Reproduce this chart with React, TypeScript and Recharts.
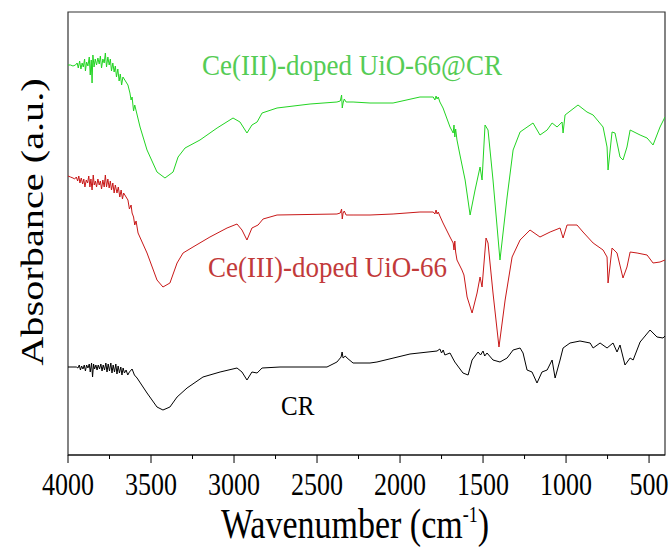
import React from "react";
import {
  Customized,
  Line,
  LineChart,
  ReferenceArea,
  XAxis,
  YAxis,
} from "recharts";

// wavenumber (cm-1) and absorbance (a.u.)
const greenWn = [
  4000, 3985, 3970, 3955, 3945, 3938, 3930, 3922, 3915, 3908, 3900, 3895, 3888,
  3880, 3872, 3866, 3860, 3855, 3850, 3843, 3836, 3828, 3820, 3812, 3805, 3798,
  3790, 3782, 3775, 3768, 3760, 3752, 3745, 3738, 3730, 3722, 3715, 3708, 3700,
  3692, 3685, 3677, 3669, 3639, 3627, 3620, 3614, 3605, 3598, 3566, 3524, 3464,
  3416, 3367, 3337, 3295, 3205, 3102, 3006, 2964, 2922, 2892, 2861, 2831, 2741,
  2542, 2380, 2360, 2352, 2348, 2343, 2336, 2325, 2283, 2181, 2042, 1880, 1800,
  1790, 1783, 1777, 1770, 1760, 1741, 1699, 1680, 1675, 1670, 1665, 1657, 1639,
  1608, 1578, 1548, 1518, 1506, 1488, 1470, 1440, 1398, 1355, 1319, 1277, 1199,
  1157, 1114, 1084, 1054, 1024, 1018, 1006, 928, 874, 837, 777, 753, 747, 723,
  705, 675, 657, 633, 614, 554, 512, 476, 434, 404,
];
const greenAbs = [
  390, 390, 389, 390, 392, 387, 394, 386, 392, 388, 396, 384, 393, 389, 398,
  380, 395, 372, 400, 388, 396, 390, 397, 391, 399, 387, 396, 392, 402, 388,
  398, 390, 396, 384, 392, 383, 389, 378, 386, 374, 381, 370, 378, 370, 362,
  355, 358, 344, 350, 328, 305, 283, 277, 283, 298, 307, 315, 327, 337, 333,
  322, 330, 333, 342, 347, 351, 353, 354, 360, 347, 352, 356, 353, 353, 352,
  352, 358, 358, 355, 359, 356, 358, 353, 347, 328, 322, 330, 318, 326, 315,
  300, 275, 240, 265, 288, 275, 330, 325, 275, 195, 258, 305, 323, 332, 320,
  325, 332, 328, 333, 322, 340, 350, 343, 340, 328, 308, 285, 323, 322, 298,
  295, 308, 325, 320, 317, 310, 328, 338,
];

const redWn = [
  4000, 3985, 3970, 3960, 3950, 3942, 3935, 3928, 3920, 3912, 3905, 3898, 3890,
  3882, 3875, 3868, 3862, 3855, 3848, 3842, 3835, 3828, 3820, 3812, 3805, 3798,
  3790, 3782, 3775, 3768, 3760, 3752, 3745, 3738, 3730, 3722, 3715, 3705, 3697,
  3688, 3680, 3672, 3665, 3639, 3630, 3620, 3614, 3605, 3598, 3590, 3578, 3524,
  3464, 3428, 3386, 3343, 3307, 3247, 3145, 3042, 2982, 2952, 2922, 2892, 2855,
  2825, 2741, 2380, 2360, 2352, 2348, 2343, 2336, 2325, 2283, 2181, 2042, 1880,
  1800, 1790, 1783, 1777, 1770, 1760, 1741, 1699, 1680, 1675, 1670, 1665, 1657,
  1627, 1615, 1608, 1596, 1566, 1536, 1518, 1506, 1482, 1470, 1440, 1404, 1367,
  1325, 1277, 1217, 1157, 1096, 1036, 1018, 994, 934, 898, 837, 777, 753, 747,
  723, 693, 657, 633, 614, 572, 512, 476, 434, 404,
];
const redAbs = [
  279, 278, 277, 276, 278, 274, 279, 272, 277, 271, 276, 268, 275, 272, 279,
  268, 276, 265, 280, 270, 274, 268, 276, 270, 274, 266, 275, 268, 280, 268,
  276, 267, 274, 265, 272, 262, 270, 262, 268, 258, 265, 256, 262, 255, 246,
  250, 242, 238, 230, 234, 222, 202, 175, 168, 172, 192, 202, 208, 218, 227,
  231, 225, 215, 227, 230, 236, 240, 241, 242, 246, 236, 242, 244, 240, 240,
  240, 241, 243, 243, 241, 245, 241, 243, 239, 232, 218, 212, 205, 214, 203,
  195, 185, 180, 172, 158, 142, 162, 178, 168, 217, 212, 162, 108, 155, 198,
  215, 225, 218, 223, 227, 217, 230, 230, 223, 212, 205, 198, 172, 207, 202,
  177, 188, 203, 202, 200, 192, 193, 195,
];

const blackWn = [
  4000, 3970, 3950, 3940, 3932, 3925, 3918, 3910, 3902, 3895, 3888, 3880, 3872,
  3866, 3858, 3852, 3846, 3840, 3832, 3825, 3818, 3810, 3802, 3795, 3788, 3780,
  3772, 3765, 3758, 3750, 3742, 3735, 3728, 3720, 3712, 3705, 3698, 3690, 3682,
  3675, 3668, 3660, 3650, 3640, 3630, 3614, 3600, 3584, 3524, 3464, 3428, 3386,
  3343, 3283, 3187, 3084, 2982, 2952, 2922, 2892, 2861, 2831, 2723, 2440, 2380,
  2355, 2349, 2343, 2330, 2319, 2283, 2181, 2139, 1940, 1777, 1760, 1750, 1740,
  1730, 1699, 1680, 1670, 1621, 1590, 1566, 1530, 1515, 1500, 1490, 1476, 1440,
  1398, 1355, 1319, 1277, 1259, 1235, 1205, 1175, 1145, 1114, 1084, 1066, 1036,
  1018, 976, 916, 855, 837, 795, 753, 717, 693, 675, 645, 614, 596, 554, 494,
  452, 416, 404,
];
const blackAbs = [
  88, 88, 88, 87, 90, 85, 89, 86, 90, 84, 90, 87, 91, 83, 92, 78, 91, 86, 90,
  85, 90, 86, 91, 84, 90, 85, 92, 83, 91, 84, 92, 82, 90, 83, 91, 81, 89, 82,
  88, 80, 87, 82, 85, 80, 83, 86, 80, 77, 62, 48, 45, 48, 58, 67, 78, 83, 87,
  83, 75, 83, 82, 87, 88, 88, 93, 98, 103, 97, 99, 97, 92, 92, 93, 101, 104,
  106, 102, 105, 100, 102, 96, 93, 82, 80, 95, 103, 100, 104, 99, 102, 95, 93,
  97, 105, 107, 102, 85, 83, 72, 83, 85, 95, 77, 95, 107, 112, 114, 112, 107,
  112, 107, 112, 103, 110, 90, 97, 95, 113, 125, 118, 117, 119,
];

const xTicks = [
  4000, 3750, 3500, 3250, 3000, 2750, 2500, 2250, 2000, 1750, 1500, 1250, 1000,
  750, 500,
];

const toRows = (wn: number[], abs: number[]) =>
  wn.map((w, i) => ({ wn: w, abs: abs[i] }));

const greenData = toRows(greenWn, greenAbs);
const redData = toRows(redWn, redAbs);
const blackData = toRows(blackWn, blackAbs);

const FONT = "Liberation Serif";

const WnTick = (props: any) => {
  const { x, y, payload } = props;
  const major = payload.value % 500 === 0;
  return (
    <g>
      <line x1={x} y1={y} x2={x} y2={y + (major ? 8 : 4)} stroke="#000" />
      {major && (
        <text
          transform={`translate(${x} ${y + 40}) scale(1 1.25)`}
          textAnchor="middle"
          fontFamily={FONT}
          fontSize={26}
          fill="#000"
        >
          {payload.value}
        </text>
      )}
    </g>
  );
};

const Texts = () => (
  <g fontFamily={FONT}>
    <text
      transform="translate(202 75) scale(1 1.1)"
      fontSize={27}
      fill="#55cc55"
      fontFamily={FONT}
    >
      Ce(III)-doped UiO-66@CR
    </text>
    <text
      transform="translate(208 277) scale(1 1.1)"
      fontSize={27}
      fill="#c23a3a"
      fontFamily={FONT}
    >
      Ce(III)-doped UiO-66
    </text>
    <text
      transform="translate(281 415) scale(1 1.1)"
      fontSize={25}
      fill="#000"
      fontFamily={FONT}
    >
      CR
    </text>
    <text
      transform="translate(355 538) scale(1 1.25)"
      fontSize={34}
      textAnchor="middle"
      fill="#000"
      fontFamily={FONT}
    >
      Wavenumber (cm
      <tspan fontSize={18} dy={-13}>
        -1
      </tspan>
      <tspan dy={13}>)</tspan>
    </text>
    <text
      transform="translate(43 222) scale(1 1.3) rotate(-90)"
      fontSize={31}
      textAnchor="middle"
      fill="#000"
      fontFamily={FONT}
    >
      Absorbance (a.u.)
    </text>
  </g>
);

export default function App() {
  return (
    <div style={{ position: "absolute", left: 0, top: 0, background: "#fff" }}>
      <LineChart
        width={672}
        height={552}
        margin={{ top: 12, right: 7, left: 68, bottom: 0 }}
      >
        <XAxis
          type="number"
          dataKey="wn"
          domain={[404, 4000]}
          reversed
          ticks={xTicks}
          interval={0}
          height={97}
          tickSize={0}
          tickMargin={0}
          tick={<WnTick />}
          axisLine={{ stroke: "#000" }}
          allowDataOverflow
        />
        <YAxis type="number" domain={[0, 443]} hide allowDataOverflow />
        <ReferenceArea
          x1={4000}
          x2={404}
          y1={0}
          y2={443}
          fill="none"
          stroke="#333"
          strokeWidth={1.2}
        />
        <Line
          data={greenData}
          dataKey="abs"
          stroke="#22d422"
          strokeWidth={1}
          dot={false}
          isAnimationActive={false}
        />
        <Line
          data={redData}
          dataKey="abs"
          stroke="#c81818"
          strokeWidth={1}
          dot={false}
          isAnimationActive={false}
        />
        <Line
          data={blackData}
          dataKey="abs"
          stroke="#000"
          strokeWidth={1}
          dot={false}
          isAnimationActive={false}
        />
        <Customized component={<Texts />} />
      </LineChart>
    </div>
  );
}
